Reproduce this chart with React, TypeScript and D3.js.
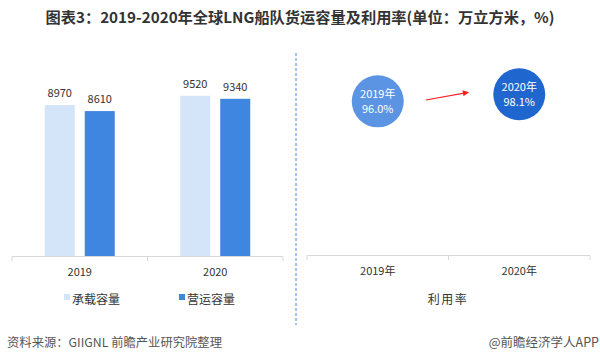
import React from "react";
import * as d3 from "d3";

const years = ["2019", "2020"];
const seriesNames = ["承载容量", "营运容量"];
const capacity = [8970, 9520];
const operating = [8610, 9340];
const rateYears = ["2019年", "2020年"];
const rates = [96.0, 98.1];

const title = "图表3：2019-2020年全球LNG船队货运容量及利用率(单位：万立方米，%)";
const source = "资料来源：GIIGNL 前瞻产业研究院整理";
const brand = "@前瞻经济学人APP";

const barColors = ["#D5E5F9", "#3F86E0"];
const circleColors = ["#5A94E3", "#1F67CF"];
const font = "'Noto Sans CJK SC', 'Noto Sans', sans-serif";

export default function App() {
  const x0 = d3.scaleBand<string>().domain(years).range([12, 283]).padding(0);
  const y = d3.scaleLinear().domain([0, 10000]).range([256, 87.7]);
  const seriesValues = [capacity, operating];

  const xr = d3.scaleBand<string>().domain(rateYears).range([307, 590]).padding(0);
  const yr = d3.scaleLinear().domain([50, 100]).range([255, 88]);

  const p0x = (xr(rateYears[0]) as number) + xr.bandwidth() / 2;
  const p1x = (xr(rateYears[1]) as number) + xr.bandwidth() / 2;
  const ix = d3.interpolateNumber(p0x, p1x);
  const iy = d3.interpolateNumber(yr(rates[0]), yr(rates[1]));
  const ax0 = ix(0.34);
  const ay0 = iy(0.34) + 1;
  const ax1 = ix(0.64);
  const ay1 = iy(0.64) - 4.5;

  return (
    <svg
      width={600}
      height={361}
      style={{ position: "absolute", left: 0, top: 0, background: "#fff" }}
      fontFamily={font}
    >
      <defs>
        <marker id="arr" viewBox="0 0 10 10" refX="9" refY="5" markerWidth="6" markerHeight="5" orient="auto">
          <path d="M0,0 L10,5 L0,10 z" fill="#FF1E1E" />
        </marker>
      </defs>
      <rect width={600} height={361} fill="#fff" />
      <text x={300} y={23} textAnchor="middle" fontSize={15} fontWeight="bold" fill="#333" textLength={509} lengthAdjust="spacingAndGlyphs">
        {title}
      </text>

      {/* Left bar chart */}
      {years.map((yr0, i) => {
        const cx = (x0(yr0) as number) + x0.bandwidth() / 2;
        const x1 = d3.scaleBand<string>().domain(seriesNames).range([cx - 35, cx + 35]).paddingInner(0.25);
        return (
          <g key={yr0}>
            {seriesNames.map((s, j) => {
              const v = seriesValues[j][i];
              const bx = x1(s) as number;
              return (
                <g key={s}>
                  <rect x={bx} y={y(v)} width={x1.bandwidth()} height={y(0) - y(v)} fill={barColors[j]} />
                  <text x={bx + x1.bandwidth() / 2} y={y(v) - 8} textAnchor="middle" fontSize={11} fill="#333">
                    {v}
                  </text>
                </g>
              );
            })}
            <text x={cx} y={276} textAnchor="middle" fontSize={11} fill="#333">
              {yr0}
            </text>
          </g>
        );
      })}
      <line x1={12} x2={283} y1={256.5} y2={256.5} stroke="#D9D9D9" />
      {[12, 12 + x0.step(), 283].map((t, i) => (
        <line key={i} x1={t} x2={t} y1={256.5} y2={261} stroke="#D9D9D9" />
      ))}
      {seriesNames.map((s, j) => {
        const lx = [64, 179][j];
        return (
          <g key={s}>
            <rect x={lx} y={294} width={6} height={6} fill={barColors[j]} />
            <text x={lx + 8} y={301} fontSize={12} fill="#333" dominantBaseline="middle">
              {s}
            </text>
          </g>
        );
      })}

      {/* Divider */}
      <line x1={296} x2={296} y1={53} y2={325} stroke="#4A86E8" strokeDasharray="3,2" />

      {/* Right bubble chart */}
      <line x1={307} x2={590} y1={255.5} y2={255.5} stroke="#D9D9D9" />
      {[307, 307 + xr.step(), 590].map((t, i) => (
        <line key={i} x1={t} x2={t} y1={255.5} y2={260} stroke="#D9D9D9" />
      ))}
      {rateYears.map((ry, i) => {
        const cx = (xr(ry) as number) + xr.bandwidth() / 2;
        const cy = yr(rates[i]);
        return (
          <g key={ry}>
            <circle cx={cx} cy={cy} r={26} fill={circleColors[i]} />
            <text x={cx} y={cy - 6} textAnchor="middle" dominantBaseline="middle" fontSize={11} fill="#fff">
              {ry}
            </text>
            <text x={cx} y={cy + 9} textAnchor="middle" dominantBaseline="middle" fontSize={11} fill="#fff">
              {rates[i].toFixed(1) + "%"}
            </text>
            <text x={cx} y={272} textAnchor="middle" dominantBaseline="middle" fontSize={11} fill="#333">
              {ry}
            </text>
          </g>
        );
      })}
      <line x1={ax0} y1={ay0} x2={ax1} y2={ay1} stroke="#FF1E1E" strokeWidth={1.2} markerEnd="url(#arr)" />
      <text x={448} y={301} textAnchor="middle" dominantBaseline="middle" fontSize={12} fill="#333" letterSpacing={1.5}>
        利用率
      </text>

      {/* Footer */}
      <text x={7} y={344} dominantBaseline="middle" fontSize={12} fill="#555" textLength={215} lengthAdjust="spacingAndGlyphs">
        {source}
      </text>
      <text x={599} y={344} textAnchor="end" dominantBaseline="middle" fontSize={12.5} fill="#555">
        {brand}
      </text>
    </svg>
  );
}
